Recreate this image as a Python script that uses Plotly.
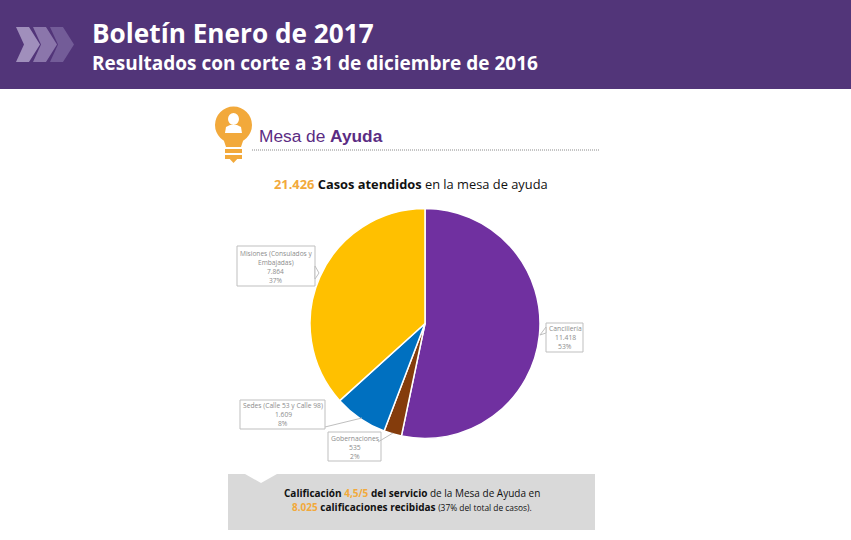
import plotly.graph_objects as go

W, H = 851, 540

# Data
categories = ["Cancillería", "Gobernaciones", "Sedes (Calle 53 y Calle 98)", "Misiones (Consulados y Embajadas)"]
cases = [11418, 535, 1609, 7864]
percent_labels = ["53%", "2%", "8%", "37%"]
case_labels = ["11.418", "535", "1.609", "7.864"]
slice_colors = ["#7030A0", "#843C0C", "#0070C0", "#FFC000"]

PURPLE = "#523579"
ORANGE = "#F2A93B"


def X(p):
    return p / W


def Y(p):
    return 1 - p / H


shapes = []
annotations = []


def rect(x0, y0, x1, y1, fill, line=None, lw=1):
    shapes.append(dict(type="rect", xref="paper", yref="paper", x0=X(x0), x1=X(x1), y0=Y(y0), y1=Y(y1),
                       fillcolor=fill, line=dict(color=line, width=lw) if line else dict(width=0)))


def poly(points, fill, line=None, lw=1, dash=None):
    path = "M " + " L ".join(f"{X(a):.5f},{Y(b):.5f}" for a, b in points)
    if fill:
        path += " Z"
    style = dict(color=line, width=lw) if line else dict(width=0)
    if dash:
        style["dash"] = dash
    shapes.append(dict(type="path", xref="paper", yref="paper", path=path,
                       fillcolor=fill if fill else "rgba(0,0,0,0)", line=style))


def circle(cx, cy, rx, ry, fill):
    shapes.append(dict(type="circle", xref="paper", yref="paper", x0=X(cx - rx), x1=X(cx + rx),
                       y0=Y(cy + ry), y1=Y(cy - ry), fillcolor=fill, line=dict(width=0)))


def text(x, y, s, size, color="#000000", anchor="left", family="Open Sans"):
    annotations.append(dict(xref="paper", yref="paper", x=X(x), y=Y(y), text=s, showarrow=False,
                            xanchor=anchor, yanchor="middle", align=anchor,
                            font=dict(size=size, color=color, family=family)))


# Header band
rect(0, 0, W, 89, PURPLE)
for x0, col in [(16, "#A08FBC"), (33, "#8B76AB"), (50, "#735C98")]:
    poly([(x0, 27), (x0 + 13, 27), (x0 + 24, 44.5), (x0 + 13, 62), (x0, 62), (x0 + 8, 44.5)], col)
text(90, 33, "<b>Boletín Enero de 2017</b>", 26.2, "#FFFFFF")
text(90, 63, "<b>Resultados con corte a 31 de diciembre de 2016</b>", 19, "#FFFFFF")

# Light-bulb icon
circle(233.5, 125, 18.5, 18.5, ORANGE)
poly([(222, 135), (245, 135), (241, 147), (226, 147)], ORANGE)
rect(225, 149, 242, 153, ORANGE)
rect(225, 155, 242, 159, ORANGE)
poly([(227, 156), (240, 156), (233.5, 163)], ORANGE)
circle(233.5, 119, 5.5, 6, "#FFFFFF")
poly([(225, 133), (226, 127), (230, 125), (237, 125), (241, 127), (242, 133)], "#FFFFFF")

# Section heading
text(257, 136, "Mesa de <b>Ayuda</b>", 17.3, "#5B2C83", family="Liberation Sans")
poly([(252, 150), (600, 150)], None, "#8A8A8A", 1, "1px,1px")
text(411, 184, "<span style='color:#F2A93B'><b>21.426</b></span> <b>Casos atendidos</b> en la mesa de ayuda",
     12.85, "#111111", "center")

# Callouts
BOX = "#BFBFBF"
LABEL = "#8C8C8C"
rect(237, 246, 315, 286, "#FFFFFF", BOX)
poly([(315, 266), (319, 273), (315, 279)], "#FFFFFF", BOX)
rect(546, 323, 583, 352, "#FFFFFF", BOX)
poly([(546, 327), (540, 335), (546, 333)], "#FFFFFF", BOX)
rect(240, 400, 325, 429, "#FFFFFF", BOX)
poly([(325, 427), (362, 418)], None, BOX)
rect(328, 432, 381, 461, "#FFFFFF", BOX)
poly([(378, 442), (393, 433)], None, BOX)


def callout(cx, top, lines, size):
    for i, line in enumerate(lines):
        text(cx, top + i * 9.2, line, size, LABEL, "center")


callout(275.5, 253, ["Misiones (Consulados y", "Embajadas)", case_labels[3], percent_labels[3]], 6.6)
callout(565, 328, ["Cancillería", case_labels[0], percent_labels[0]], 6.8)
callout(283, 405, ["Sedes (Calle 53 y Calle 98)", case_labels[2], percent_labels[2]], 6.7)
callout(354.5, 438, ["Gobernaciones", case_labels[1], percent_labels[1]], 6.8)

# Grey note box with notch
poly([(228, 474), (245, 474), (261, 483), (277, 474), (595, 474), (595, 530), (228, 530)], "#D9D9D9")
text(412, 493, "<b>Calificación</b> <span style='color:#F2A93B'><b>4,5/5</b></span> <b>del servicio</b> de la Mesa de Ayuda en",
     10, "#111111", "center")
text(412, 507, "<span style='color:#F2A93B'><b>8.025</b></span> <b>calificaciones recibidas</b> <span style='font-size:8.4px'>(37% del total de casos).</span>",
     10, "#111111", "center")

pie = go.Pie(
    labels=categories,
    values=cases,
    sort=False,
    direction="clockwise",
    rotation=0,
    textinfo="none",
    hoverinfo="label+value+percent",
    marker=dict(colors=slice_colors, line=dict(color="#FFFFFF", width=1.5)),
    domain=dict(x=[X(310), X(540)], y=[Y(438.5), Y(208.5)]),
    showlegend=False,
)

fig = go.Figure(pie)
fig.update_layout(
    width=W,
    height=H,
    margin=dict(l=0, r=0, t=0, b=0),
    paper_bgcolor="#FFFFFF",
    shapes=shapes,
    annotations=annotations,
)
fig.write_html("out.html", config=dict(displayModeBar=False),
               post_script="document.body.style.margin='0';document.body.style.overflow='hidden';")
